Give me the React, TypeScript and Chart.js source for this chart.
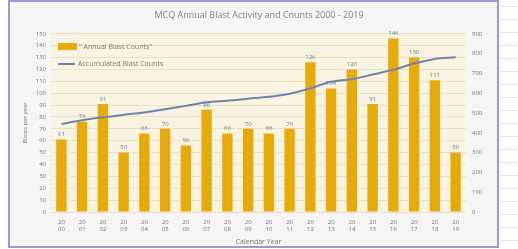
import { useEffect, useRef } from "react";
import { Chart, registerables } from "chart.js";
Chart.register(...registerables);

const TITLE = "MCQ Annual Blast Activity and Counts 2000 - 2019";
const years = ["2000","2001","2002","2003","2004","2005","2006","2007","2008","2009","2010","2011","2012","2013","2014","2015","2016","2017","2018","2019"];
const yearTopLine = ["20","20","20","20","20","20","20","20","20","20","20","20","20","20","20","20","20","20","20","20"];
const yearBottomLine = ["00","01","02","03","04","05","06","07","08","09","10","11","12","13","14","15","16","17","18","19"];
const annualCounts = [61, 76, 91, 50, 66, 70, 56, 86, 66, 70, 66, 70, 126, 104, 120, 91, 146, 130, 111, 50];
const accumulatedCounts = [445, 463, 478, 491, 503, 519, 536, 554, 562, 572, 582, 597, 625, 658, 671, 694, 719, 750, 773, 781];
const LEFT_MAX = 150, LEFT_STEP = 10;
const RIGHT_MAX = 900, RIGHT_STEP = 100;

const GRAY = "#767676";
const FONT = "'Open Sans', 'Liberation Sans', sans-serif";
const BAR = "#e6aa0b";
const LINE = "#7282ad";

export default function App() {
  const ref = useRef<HTMLCanvasElement | null>(null);
  useEffect(() => {
    if (!ref.current) return;
    const bgPlugin = {
      id: "bg",
      beforeDraw(chart: any) {
        const { ctx, chartArea } = chart;
        ctx.save();
        ctx.fillStyle = "#ffffff";
        ctx.fillRect(0, 0, 518, 249);
        ctx.strokeStyle = "#e4e4ea";
        ctx.lineWidth = 1;
        for (let y = 6.5; y < 249; y += 13) {
          ctx.beginPath();
          ctx.moveTo(500, y);
          ctx.lineTo(518, y);
          ctx.stroke();
        }
        ctx.fillStyle = "#f5f5f5";
        ctx.fillRect(9, 1, 489, 246);
        ctx.strokeStyle = "#a593d3";
        ctx.lineWidth = 2;
        ctx.strokeRect(9, 1, 489, 246);
        ctx.fillStyle = "#f9f4e1";
        ctx.fillRect(chartArea.left, chartArea.top, chartArea.right - chartArea.left, chartArea.bottom - chartArea.top);
        ctx.restore();
      },
    };
    const labelPlugin = {
      id: "barLabels",
      afterDatasetsDraw(chart: any) {
        const { ctx } = chart;
        const meta = chart.getDatasetMeta(0);
        ctx.save();
        ctx.fillStyle = GRAY;
        ctx.font = `6px ${FONT}`;
        ctx.textAlign = "center";
        ctx.textBaseline = "bottom";
        meta.data.forEach((el: any, i: number) => {
          ctx.fillText(String(annualCounts[i]), el.x, el.y - 2);
        });
        ctx.restore();
      },
      afterDraw(chart: any) {
        const { ctx } = chart;
        ctx.save();
        ctx.fillStyle = BAR;
        ctx.fillRect(58, 43, 19, 7);
        ctx.strokeStyle = LINE;
        ctx.lineWidth = 2;
        ctx.beginPath();
        ctx.moveTo(58, 64);
        ctx.lineTo(75, 64);
        ctx.stroke();
        ctx.fillStyle = GRAY;
        ctx.font = `7px ${FONT}`;
        ctx.textBaseline = "middle";
        ctx.textAlign = "left";
        ctx.fillText("\" Annual Blast Counts\"", 79, 47);
        ctx.fillText("Accumulated Blast Counts", 78, 64);
        ctx.restore();
      },
    };
    const chart = new Chart(ref.current, {
      type: "bar",
      data: {
        labels: years.map((_, i) => [yearTopLine[i], yearBottomLine[i]]),
        datasets: [
          {
            type: "bar",
            label: "\" Annual Blast Counts\"",
            data: annualCounts,
            backgroundColor: BAR,
            borderWidth: 0,
            barPercentage: 0.5,
            categoryPercentage: 1,
            yAxisID: "y",
            order: 1,
          },
          {
            type: "line",
            label: "Accumulated Blast Counts",
            data: accumulatedCounts,
            borderColor: LINE,
            borderWidth: 2,
            pointRadius: 0,
            tension: 0.35,
            fill: false,
            yAxisID: "y1",
            order: 0,
          },
        ] as any,
      },
      options: {
        responsive: false,
        animation: false,
        layout: { padding: { top: 0, left: 0, right: 0, bottom: 0 } },
        plugins: {
          legend: { display: false },
          tooltip: { enabled: false },
          title: {
            display: true,
            text: TITLE,
            color: "#808080",
            font: { size: 9, family: FONT, weight: "normal" },
            padding: { top: 10, bottom: 13 },
          },
        },
        scales: {
          x: {
            grid: { display: false, drawTicks: false },
            border: { display: false },
            ticks: {
              color: GRAY,
              font: { size: 6, family: FONT, lineHeight: 1.3 },
              maxRotation: 0,
              minRotation: 0,
              autoSkip: false,
              padding: 6,
            },
            title: {
              display: true,
              text: "Calendar Year",
              color: GRAY,
              font: { size: 7, family: FONT },
              padding: { top: 0, bottom: 3 },
            },
            afterFit(s: any) { s.height = 37; },
          },
          y: {
            position: "left",
            min: 0,
            max: LEFT_MAX,
            grid: { color: "#e6dfca", drawTicks: false },
            border: { display: false },
            ticks: {
              stepSize: LEFT_STEP,
              color: GRAY,
              font: { size: 6, family: FONT },
              padding: 5,
            },
            title: {
              display: true,
              text: "Blasts per year",
              color: GRAY,
              font: { size: 6, family: FONT },
              padding: { top: 22, bottom: 0 },
            },
            afterFit(s: any) { s.width = 51; },
          },
          y1: {
            position: "right",
            min: 0,
            max: RIGHT_MAX,
            grid: { display: false, drawTicks: false },
            border: { display: false },
            ticks: {
              stepSize: RIGHT_STEP,
              color: GRAY,
              font: { size: 6, family: FONT },
              padding: 6,
            },
            afterFit(s: any) { s.width = 52; },
          },
        },
      } as any,
      plugins: [bgPlugin, labelPlugin],
    });
    return () => chart.destroy();
  }, []);
  return (
    <div style={{ position: "fixed", left: 0, top: 0, width: 518, height: 249 }}>
      <canvas ref={ref} width={518} height={249} style={{ display: "block" }} />
    </div>
  );
}
